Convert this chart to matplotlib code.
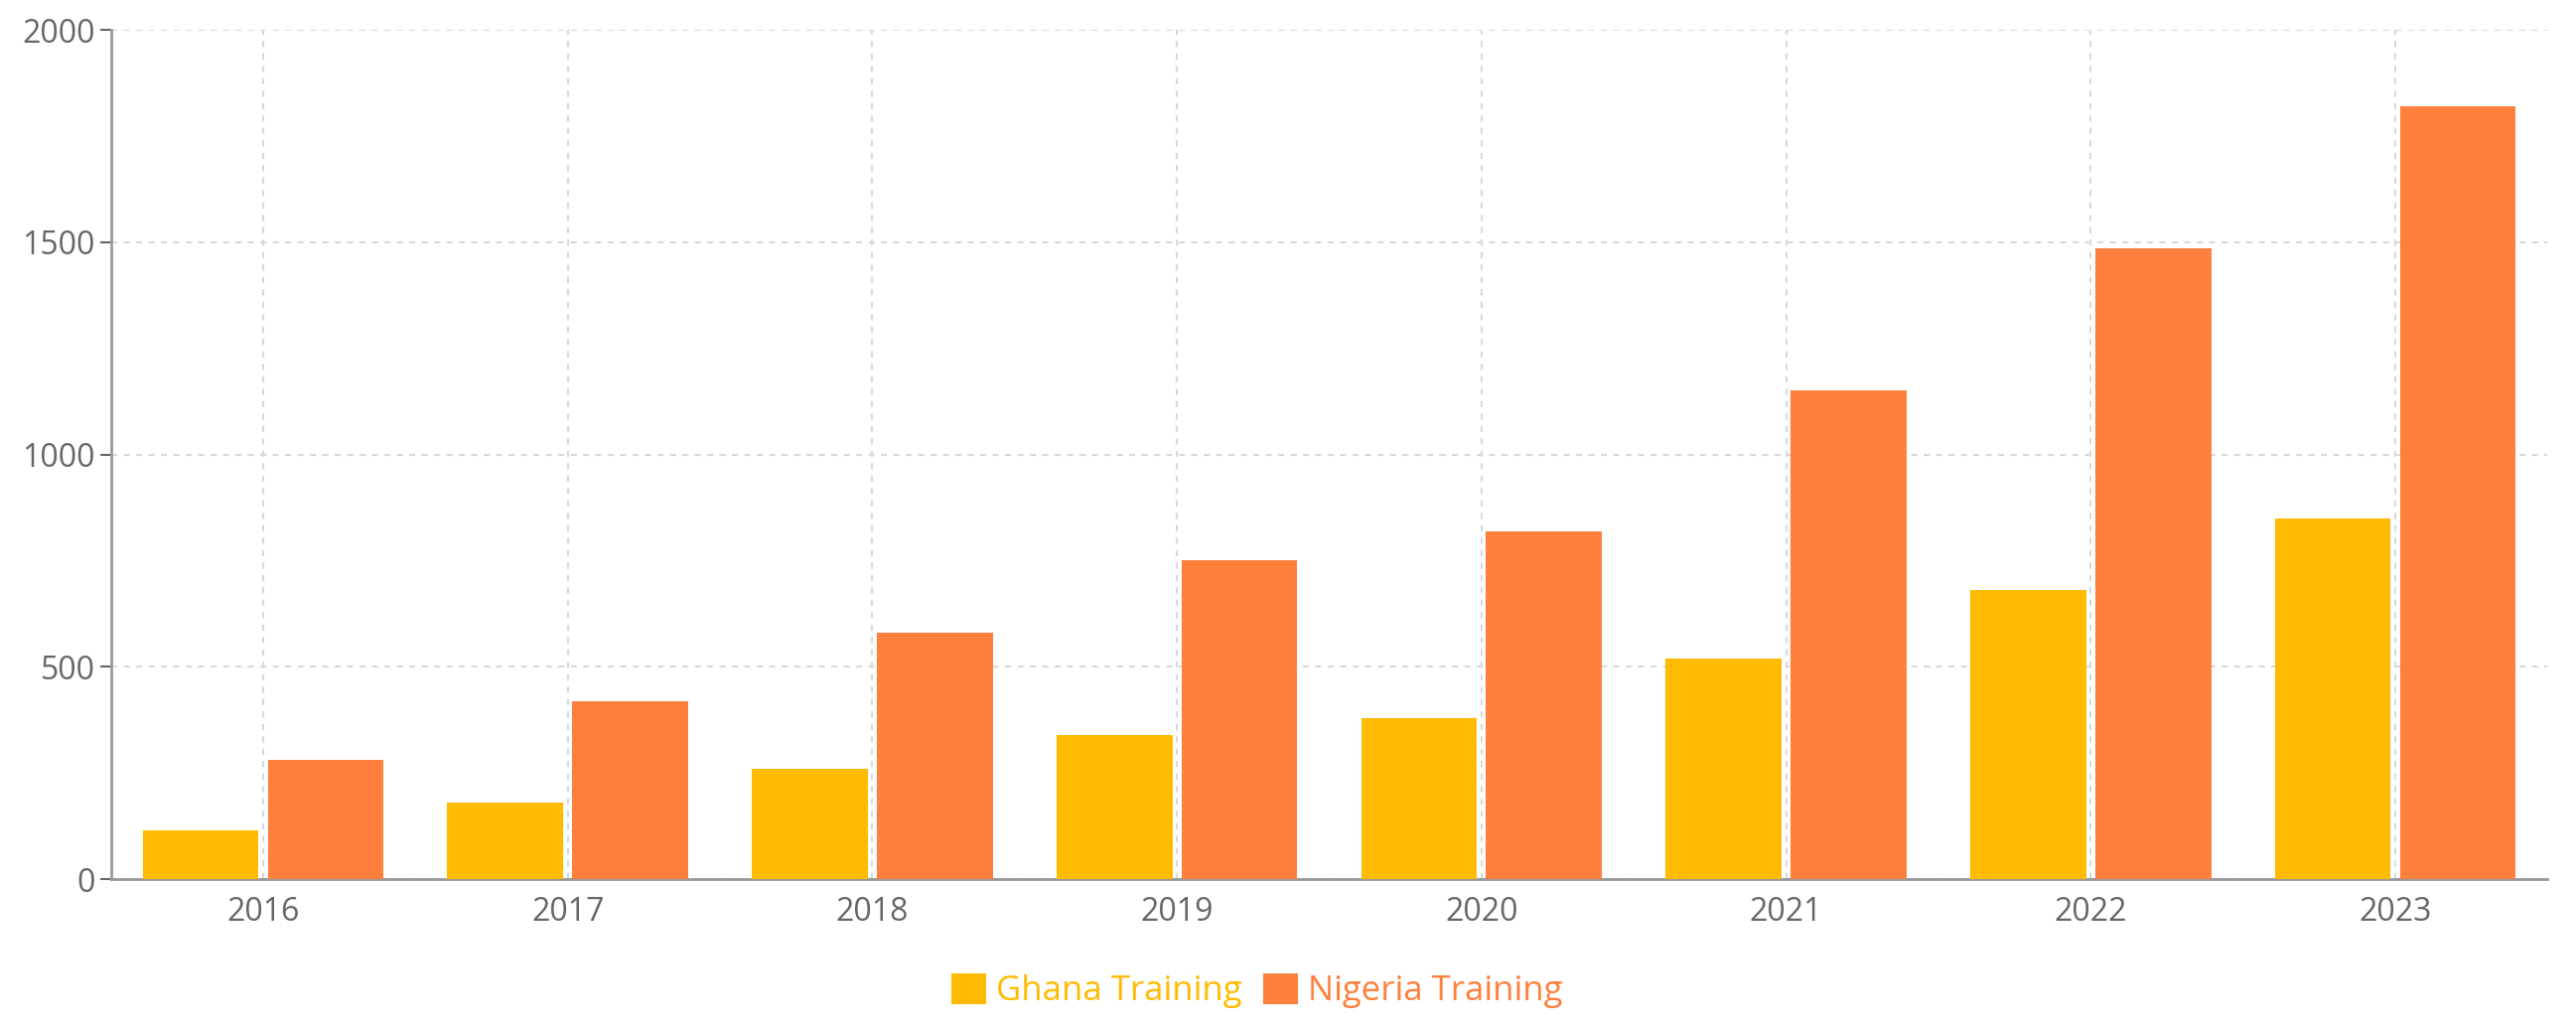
import matplotlib
matplotlib.use("Agg")
import matplotlib.pyplot as plt
import numpy as np

years = ["2016", "2017", "2018", "2019", "2020", "2021", "2022", "2023"]
ghana = [115, 180, 260, 340, 380, 520, 680, 850]
nigeria = [280, 420, 580, 750, 820, 1150, 1485, 1820]

GHANA_COL = "#FFBB00"
NIGERIA_COL = "#FF7F3C"

plt.rcParams["font.family"] = ["Open Sans", "DejaVu Sans"]

fig = plt.figure(figsize=(25.94, 10.4), dpi=100)
ax = fig.add_axes([0.043, 0.149, 0.946, 0.822])

x = np.arange(len(years))
w = 0.38
ax.bar(x - 0.205, ghana, w, color=GHANA_COL, label="Ghana Training", zorder=3)
ax.bar(x + 0.205, nigeria, w, color=NIGERIA_COL, label="Nigeria Training", zorder=3)

ax.set_xlim(-0.5, len(years) - 0.5)
ax.set_ylim(0, 2000)
ax.set_yticks([0, 500, 1000, 1500, 2000])
ax.set_xticks(x)
ax.set_xticklabels(years)
ax.tick_params(axis="both", labelsize=23, colors="#666666", length=8, width=1.5)
ax.tick_params(axis="x", length=0, pad=12)

ax.grid(True, color="#d9d9d9", linestyle=(0, (3, 3)), linewidth=1.5, zorder=0)
for s in ["top", "right"]:
    ax.spines[s].set_visible(False)
for s in ["left", "bottom"]:
    ax.spines[s].set_color("#999999")
    ax.spines[s].set_linewidth(2)

leg = fig.legend(loc="center", bbox_to_anchor=(0.488, 0.041), ncol=2, frameon=False,
                 fontsize=25, handlelength=1.0, handleheight=1.0, handletextpad=0.3,
                 columnspacing=0.6)
for t, c in zip(leg.get_texts(), [GHANA_COL, NIGERIA_COL]):
    t.set_color(c)

fig.savefig("out.png", dpi=100)
